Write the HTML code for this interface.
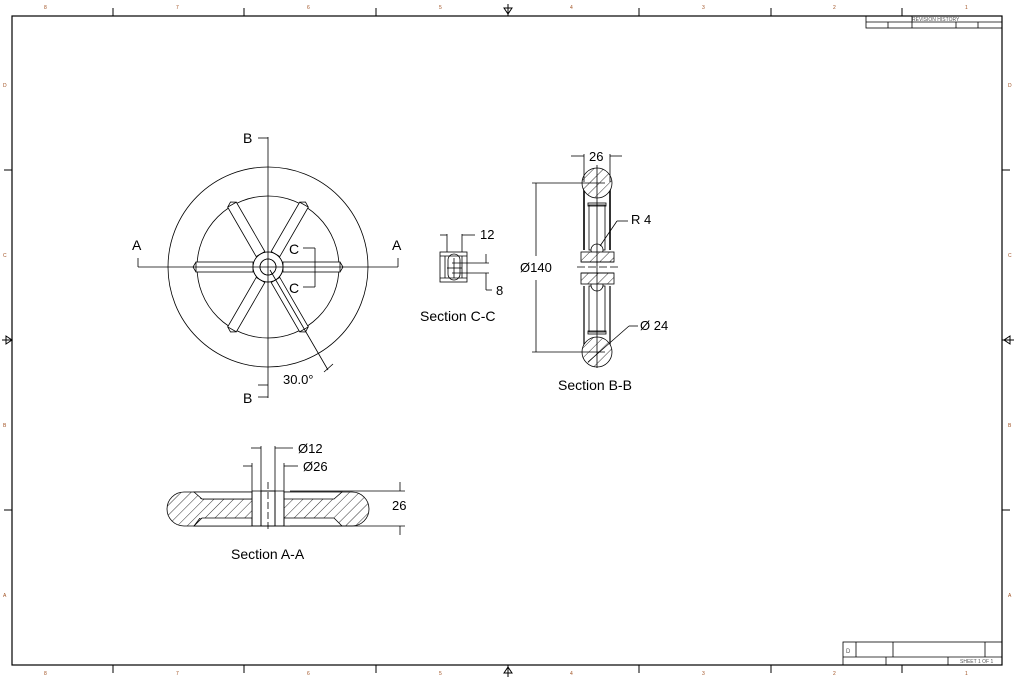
<!DOCTYPE html>
<html><head><meta charset="utf-8"><style>
html,body{margin:0;padding:0;background:#fff;}
svg{display:block;font-family:"Liberation Sans",sans-serif;}
</style></head><body>
<svg width="1022" height="680" viewBox="0 0 1022 680" xmlns="http://www.w3.org/2000/svg">
<defs>
<pattern id="h" patternUnits="userSpaceOnUse" width="7" height="7" patternTransform="rotate(45)">
<rect width="7" height="7" fill="#fff"/><line x1="0" y1="0" x2="0" y2="7" stroke="#000" stroke-width="0.8"/>
</pattern>
</defs>
<g stroke="#000" fill="none">
<rect x="12" y="16" width="990" height="649" stroke-width="1.2"/>
<!-- zone ticks -->
<g stroke-width="1">
<line x1="113" y1="8" x2="113" y2="16"/><line x1="244" y1="8" x2="244" y2="16"/><line x1="376" y1="8" x2="376" y2="16"/><line x1="639" y1="8" x2="639" y2="16"/><line x1="771" y1="8" x2="771" y2="16"/><line x1="902" y1="8" x2="902" y2="16"/>
<line x1="113" y1="665" x2="113" y2="673"/><line x1="244" y1="665" x2="244" y2="673"/><line x1="376" y1="665" x2="376" y2="673"/><line x1="639" y1="665" x2="639" y2="673"/><line x1="771" y1="665" x2="771" y2="673"/><line x1="902" y1="665" x2="902" y2="673"/>
<line x1="4" y1="170" x2="12" y2="170"/><line x1="4" y1="510" x2="12" y2="510"/>
<line x1="1002" y1="170" x2="1010" y2="170"/><line x1="1002" y1="510" x2="1010" y2="510"/>
<line x1="508" y1="4" x2="508" y2="16"/><path d="M504 8 L508 14 L512 8 Z"/>
<line x1="508" y1="665" x2="508" y2="677"/><path d="M504 673 L508 667 L512 673 Z"/>
<line x1="2" y1="340" x2="12" y2="340"/><path d="M6 336 L12 340 L6 344 Z"/>
<line x1="1002" y1="340" x2="1014" y2="340"/><path d="M1010 336 L1004 340 L1010 344 Z"/>
</g>
<!-- title blocks -->
<g stroke-width="0.8">
<rect x="866" y="16" width="136" height="12"/><line x1="866" y1="22" x2="1002" y2="22"/>
<line x1="888" y1="22" x2="888" y2="28"/><line x1="912" y1="16" x2="912" y2="28"/><line x1="956" y1="22" x2="956" y2="28"/><line x1="978" y1="22" x2="978" y2="28"/>
<rect x="843" y="642" width="159" height="23"/><line x1="843" y1="657" x2="1002" y2="657"/>
<line x1="856" y1="642" x2="856" y2="657"/><line x1="893" y1="642" x2="893" y2="657"/><line x1="985" y1="642" x2="985" y2="657"/>
<line x1="886" y1="657" x2="886" y2="665"/><line x1="948" y1="657" x2="948" y2="665"/>
</g>
<!-- front view -->
<g stroke-width="0.8">
<circle cx="268" cy="267" r="100"/>
<circle cx="268" cy="267" r="71"/>
<circle cx="268" cy="267" r="15"/>
<circle cx="268" cy="267" r="8"/>
<g id="sp"><rect x="283" y="262" width="57" height="10" fill="#fff"/><path d="M340 262 l3 5 l-3 5"/></g>
<use href="#sp" transform="rotate(60 268 267)"/><use href="#sp" transform="rotate(120 268 267)"/>
<use href="#sp" transform="rotate(180 268 267)"/><use href="#sp" transform="rotate(240 268 267)"/><use href="#sp" transform="rotate(300 268 267)"/>
<circle cx="268" cy="267" r="15"/><circle cx="268" cy="267" r="8"/>
<line x1="268" y1="137" x2="268" y2="398"/>
<line x1="138" y1="267" x2="398" y2="267"/>
<line x1="138" y1="258" x2="138" y2="267"/><line x1="398" y1="258" x2="398" y2="267"/>
<line x1="258" y1="138" x2="268" y2="138"/><line x1="258" y1="385" x2="268" y2="385"/><line x1="258" y1="397" x2="268" y2="397"/>
<line x1="303" y1="248" x2="315" y2="248"/><line x1="315" y1="248" x2="315" y2="287"/><line x1="303" y1="287" x2="315" y2="287"/>
<line x1="270" y1="270" x2="328" y2="370"/><line x1="324" y1="372" x2="333" y2="364"/>
</g>
<!-- section C-C -->
<g stroke-width="0.8">
<rect x="440" y="252" width="27" height="30" fill="#fff"/>
<line x1="440" y1="256" x2="467" y2="256"/><line x1="440" y1="278" x2="467" y2="278"/>
<line x1="445" y1="256" x2="445" y2="278"/><line x1="462" y1="256" x2="462" y2="278"/>
<rect x="448" y="254" width="12" height="26" rx="6"/>
<line x1="447" y1="234" x2="447" y2="252"/><line x1="462" y1="234" x2="462" y2="252"/>
<line x1="440" y1="235" x2="447" y2="235"/><line x1="462" y1="235" x2="475" y2="235"/>
<line x1="452" y1="263" x2="489" y2="263"/><line x1="452" y1="273" x2="489" y2="273"/>
<line x1="486" y1="254" x2="486" y2="263"/><line x1="486" y1="273" x2="486" y2="290"/><line x1="486" y1="290" x2="492" y2="290"/>
<line x1="454" y1="258" x2="454" y2="278"/><line x1="447" y1="268" x2="462" y2="268"/>
</g>
<!-- section B-B -->
<g stroke-width="0.8">
<line x1="584" y1="184" x2="584" y2="250" stroke-width="1.6"/><line x1="610" y1="184" x2="610" y2="250" stroke-width="1.6"/>
<line x1="584" y1="286" x2="584" y2="350" stroke-width="1.2"/><line x1="610" y1="286" x2="610" y2="350" stroke-width="1.2"/>
<rect x="589" y="205" width="16" height="45"/><rect x="589" y="286" width="16" height="46"/>
<rect x="588" y="203" width="18" height="3"/><rect x="588" y="331" width="18" height="3"/>
<circle cx="597" cy="183" r="15" fill="url(#h)"/>
<circle cx="597" cy="352" r="15" fill="url(#h)"/>
<circle cx="597" cy="250" r="6" fill="#fff"/><circle cx="597" cy="285" r="6" fill="#fff"/>
<rect x="581" y="252" width="33" height="10" fill="url(#h)"/>
<rect x="581" y="273" width="33" height="11" fill="url(#h)"/>
<line x1="581" y1="262" x2="614" y2="262"/><line x1="581" y1="273" x2="614" y2="273"/>
<line x1="577" y1="267" x2="618" y2="267" stroke-dasharray="8 3"/>
<line x1="597" y1="165" x2="597" y2="368"/>
<line x1="584" y1="154" x2="584" y2="182"/><line x1="610" y1="154" x2="610" y2="182"/>
<line x1="571" y1="156" x2="584" y2="156"/><line x1="610" y1="156" x2="622" y2="156"/>
<line x1="532" y1="183" x2="605" y2="183"/><line x1="532" y1="352" x2="605" y2="352"/>
<line x1="536" y1="183" x2="536" y2="256"/><line x1="536" y1="280" x2="536" y2="352"/>
<line x1="600" y1="246" x2="617" y2="221"/><line x1="617" y1="221" x2="628" y2="221"/>
<line x1="588" y1="362" x2="629" y2="326"/><line x1="629" y1="326" x2="638" y2="326"/>
</g>
<!-- section A-A -->
<g stroke-width="0.8">
<path d="M184 492 L252 492 L252 526 L184 526 A17 17 0 0 1 184 492 Z" fill="url(#h)"/>
<path d="M284 492 L352 492 A17 17 0 0 1 352 526 L284 526 Z" fill="url(#h)"/>
<path d="M200 499 L252 499 L252 518 L200 518 L194 526 L340 526" fill="none"/>
<rect x="194" y="499" width="58" height="19" fill="url(#h)" stroke="none"/>
<path d="M196 492 L202 499 L252 499" fill="#fff" stroke="#000"/>
<path d="M194 492 L202 499 L252 499 L252 492 Z M194 526 L202 518 L252 518 L252 526 Z" fill="#fff"/>
<path d="M342 492 L334 499 L284 499 L284 492 Z M342 526 L334 518 L284 518 L284 526 Z" fill="#fff"/>
<rect x="261" y="491" width="14" height="35" fill="#fff"/>
<line x1="252" y1="491" x2="284" y2="491"/><line x1="252" y1="526" x2="284" y2="526"/>
<line x1="252" y1="491" x2="252" y2="526"/><line x1="284" y1="491" x2="284" y2="526"/>
<line x1="261" y1="446" x2="261" y2="526"/><line x1="275" y1="446" x2="275" y2="526"/>
<line x1="252" y1="463" x2="252" y2="491"/><line x1="284" y1="463" x2="284" y2="491"/>
<line x1="268" y1="482" x2="268" y2="530" stroke-dasharray="7 3"/>
<line x1="251" y1="448" x2="261" y2="448"/><line x1="275" y1="448" x2="293" y2="448"/>
<line x1="243" y1="466" x2="252" y2="466"/><line x1="284" y1="466" x2="298" y2="466"/>
<line x1="290" y1="491" x2="405" y2="491"/><line x1="290" y1="526" x2="405" y2="526"/>
<line x1="400" y1="482" x2="400" y2="491"/><line x1="400" y1="526" x2="400" y2="535"/>
</g>
</g>
<g font-size="14" fill="#000">
<text x="243" y="143">B</text><text x="243" y="403">B</text>
<text x="132" y="250">A</text><text x="392" y="250">A</text>
<text x="289" y="254">C</text><text x="289" y="293">C</text>
<text x="283" y="384" font-size="13">30.0°</text>
<text x="480" y="239" font-size="13">12</text><text x="496" y="295" font-size="13">8</text>
<text x="420" y="321">Section C-C</text>
<text x="589" y="161" font-size="13">26</text>
<text x="520" y="272" font-size="13">Ø140</text>
<text x="631" y="224" font-size="13">R 4</text>
<text x="640" y="330" font-size="13">Ø 24</text>
<text x="558" y="390">Section B-B</text>
<text x="298" y="453" font-size="13">Ø12</text>
<text x="303" y="471" font-size="13">Ø26</text>
<text x="392" y="510" font-size="13">26</text>
<text x="231" y="559">Section A-A</text>
</g>
<g font-size="5" fill="#a05020">
<text x="44" y="9">8</text><text x="176" y="9">7</text><text x="307" y="9">6</text><text x="439" y="9">5</text><text x="570" y="9">4</text><text x="702" y="9">3</text><text x="833" y="9">2</text><text x="965" y="9">1</text>
<text x="44" y="675">8</text><text x="176" y="675">7</text><text x="307" y="675">6</text><text x="439" y="675">5</text><text x="570" y="675">4</text><text x="702" y="675">3</text><text x="833" y="675">2</text><text x="965" y="675">1</text>
<text x="3" y="87">D</text><text x="3" y="257">C</text><text x="3" y="427">B</text><text x="3" y="597">A</text>
<text x="1008" y="87">D</text><text x="1008" y="257">C</text><text x="1008" y="427">B</text><text x="1008" y="597">A</text>
</g>
<g font-size="5" fill="#555">
<text x="912" y="21">REVISION HISTORY</text>
<text x="846" y="653" font-size="6">D</text>
<text x="960" y="663">SHEET 1 OF 1</text>
</g>
</svg>
</body></html>
